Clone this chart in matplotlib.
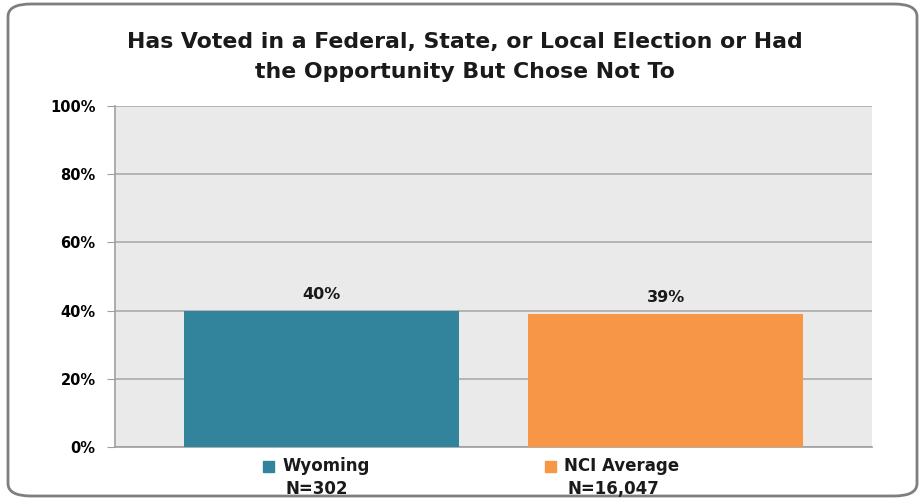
import matplotlib.pyplot as plt
from matplotlib.patches import FancyBboxPatch

# data
categories = ["Wyoming", "NCI Average"]
sample_sizes = ["N=302", "N=16,047"]
values = [40, 39]
colors = ["#31849B", "#F79646"]
yticks = [0, 20, 40, 60, 80, 100]
title = "Has Voted in a Federal, State, or Local Election or Had\nthe Opportunity But Chose Not To"

plt.rcParams['font.family'] = ['DejaVu Sans']

fig = plt.figure(figsize=(9.24, 5.01), dpi=100)
W, H = 924, 501

# rounded border round the whole chart
border = FancyBboxPatch((8 / W, 5 / H), 909 / W, 492 / H,
                        boxstyle="round,pad=0,rounding_size=0.025",
                        transform=fig.transFigure, facecolor="none",
                        edgecolor="#7F7F7F", linewidth=2)
fig.patches.append(border)

ax = fig.add_axes([115 / W, 1 - 447 / H, (872 - 115) / W, (447 - 106) / H])
ax.set_facecolor("#EAEAEA")

x = range(len(categories))
ax.bar(x, values, width=0.8, color=colors, zorder=3)
for i, v in enumerate(values):
    ax.text(i, v + 2.5, f"{v}%", ha="center", va="bottom",
            fontsize=11.5, fontweight="bold", color="#1a1a1a")

ax.set_xlim(-0.6, 1.6)
ax.set_ylim(0, 100)
ax.set_yticks(yticks)
ax.set_yticklabels([f"{t}%" for t in yticks], fontsize=10.5, fontweight="bold")
ax.tick_params(axis="y", length=6, color="#A0A0A0", pad=8)
ax.set_xticks([])
ax.grid(axis="y", color="#A6A6A6", linewidth=1.1, zorder=1)
ax.set_axisbelow(True)

for s in ["top", "right"]:
    ax.spines[s].set_visible(False)
for s in ["left", "bottom"]:
    ax.spines[s].set_color("#A0A0A0")
    ax.spines[s].set_linewidth(1.2)

fig.text(465 / W, 1 - 57 / H, title, ha="center", va="center",
         fontsize=15.8, fontweight="bold", linespacing=1.6, color="#1a1a1a")

# legend-like labels under the bars
legend_x = [317, 613]
for i, name in enumerate(categories):
    cx = legend_x[i] / W
    txt = fig.text(cx + 9 / W, 1 - 466 / H, name, ha="center", va="center",
                   fontsize=12, fontweight="bold", color="#1a1a1a")
    fig.canvas.draw()
    bb = txt.get_window_extent()
    fig.patches.append(plt.Rectangle(((bb.x0 - 19) / W, 1 - 472 / H), 11 / W, 11 / H,
                                     transform=fig.transFigure, color=colors[i]))
    fig.text(cx, 1 - 489 / H, sample_sizes[i], ha="center", va="center",
             fontsize=12, fontweight="bold", color="#1a1a1a")

fig.savefig("out.png", dpi=100)
